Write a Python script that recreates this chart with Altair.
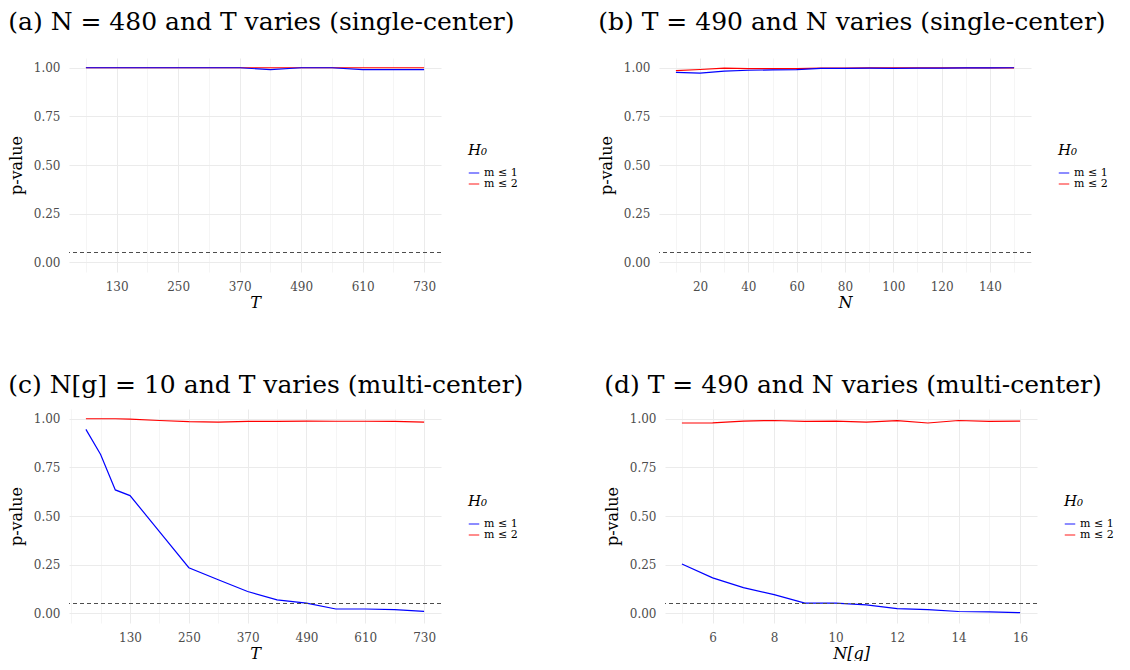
import altair as alt
import pandas as pd

# ---------------- data ----------------
a_x = [70, 130, 190, 250, 310, 370, 430, 490, 550, 610, 670, 730]
a_m1 = [1.0, 1.0, 1.0, 1.0, 1.0, 1.0, 0.99, 1.0, 1.0, 0.99, 0.99, 0.99]
a_m2 = [1.0, 1.0, 1.0, 1.0, 1.0, 1.0, 1.0, 1.0, 1.0, 1.0, 1.0, 1.0]

b_x = [10, 20, 30, 40, 50, 60, 70, 80, 90, 100, 110, 120, 130, 140, 150]
b_m1 = [0.976, 0.972, 0.983, 0.987, 0.989, 0.990, 0.997, 0.997, 0.998, 0.997, 0.998, 0.998, 0.999, 0.999, 1.0]
b_m2 = [0.985, 0.991, 0.998, 0.995, 0.995, 0.995, 0.998, 0.998, 0.999, 0.999, 0.999, 0.999, 0.999, 0.999, 0.999]

c_x = [40, 70, 100, 130, 190, 250, 310, 370, 430, 490, 550, 610, 670, 730]
c_m1 = [0.945, 0.816, 0.634, 0.605, 0.42, 0.234, 0.172, 0.112, 0.069, 0.052, 0.022, 0.022, 0.019, 0.010]
c_m2 = [1.0, 1.0, 1.0, 0.998, 0.991, 0.985, 0.983, 0.986, 0.986, 0.988, 0.987, 0.987, 0.986, 0.983]

d_x = [5, 6, 7, 8, 9, 10, 11, 12, 13, 14, 15, 16]
d_m1 = [0.253, 0.182, 0.132, 0.096, 0.052, 0.052, 0.043, 0.024, 0.019, 0.009, 0.007, 0.003]
d_m2 = [0.978, 0.979, 0.988, 0.991, 0.986, 0.988, 0.983, 0.990, 0.978, 0.991, 0.986, 0.988]

series_names = ["m ≤ 1", "m ≤ 2"]
series_colors = ["#0000FF", "#FF0000"]
threshold = 0.05

y_major = [0, 0.25, 0.5, 0.75, 1.0]
y_minor = [0.125, 0.375, 0.625, 0.875]

panels = [
    dict(title="(a) N = 480 and T varies (single-center)", x=a_x, m1=a_m1, m2=a_m2,
         xtitle="T", domain=[37, 763], major=[130, 250, 370, 490, 610, 730],
         minor=[70, 190, 310, 430, 550, 670], offset=23),
    dict(title="(b) T = 490 and N varies (single-center)", x=b_x, m1=b_m1, m2=b_m2,
         xtitle="N", domain=[3, 157], major=[20, 40, 60, 80, 100, 120, 140],
         minor=[10, 30, 50, 70, 90, 110, 130, 150], offset=23),
    dict(title="(c) N[g] = 10 and T varies (multi-center)", x=c_x, m1=c_m1, m2=c_m2,
         xtitle="T", domain=[5.5, 764.5], major=[130, 250, 370, 490, 610, 730],
         minor=[10, 70, 190, 310, 430, 550, 670], offset=11),
    dict(title="(d) T = 490 and N varies (multi-center)", x=d_x, m1=d_m1, m2=d_m2,
         xtitle="N[g]", domain=[4.45, 16.55], major=[6, 8, 10, 12, 14, 16],
         minor=[5, 7, 9, 11, 13, 15], offset=11),
]

SERIF = "DejaVu Serif"
PW, PH = 372, 214


def grid_width(major):
    return {"condition": {"test": f"indexof({major}, datum.value) >= 0", "value": 1.0},
            "value": 0.5}


def make_panel(p):
    df = pd.DataFrame({
        "x": p["x"] + p["x"],
        "p": p["m1"] + p["m2"],
        "H0": [series_names[0]] * len(p["x"]) + [series_names[1]] * len(p["x"]),
    })
    xmaj = p["major"]
    xaxis = alt.Axis(
        values=sorted(xmaj + p["minor"]),
        labelExpr=f"indexof({xmaj}, datum.value) >= 0 ? datum.label : ''",
        gridWidth=grid_width(xmaj),
        labelOverlap=False,
        title=p["xtitle"], titleFontStyle="italic",
    )
    yaxis = alt.Axis(
        values=sorted(y_major + y_minor),
        labelExpr=f"indexof({y_major}, datum.value) >= 0 ? format(datum.value, '.2f') : ''",
        gridWidth=grid_width(y_major),
        labelOverlap=False,
        title="p-value",
    )
    color = alt.Color(
        "H0:N",
        scale=alt.Scale(domain=series_names, range=series_colors),
        legend=alt.Legend(title="H₀", orient="none", legendX=PW + 27, legendY=85,
                          symbolType="stroke", symbolSize=110, symbolStrokeWidth=1.5,
                          symbolOpacity=0.6, titleFontStyle="italic", titleFontSize=15,
                          titleFont=SERIF, titleFontWeight="normal",
                          labelFont=SERIF, labelFontSize=11, rowPadding=-4,
                          titlePadding=9),
    )
    x = alt.X("x:Q", scale=alt.Scale(domain=p["domain"], nice=False, zero=False), axis=xaxis)
    y = alt.Y("p:Q", scale=alt.Scale(domain=[-0.05, 1.05], nice=False), axis=yaxis)
    base = alt.Chart(df).encode(x=x, y=y, color=color)
    red = base.transform_filter(alt.datum.H0 == series_names[1]).mark_line(strokeWidth=1.2)
    blue = base.transform_filter(alt.datum.H0 == series_names[0]).mark_line(strokeWidth=1.2)
    rule = alt.Chart(pd.DataFrame({"t": [threshold]})).mark_rule(
        color="#4D4D4D", strokeDash=[4, 3], strokeWidth=1.1
    ).encode(y="t:Q")
    return alt.layer(red, blue, rule).properties(
        width=PW, height=PH,
        title=alt.TitleParams(p["title"], anchor="start", frame="bounds",
                              font=SERIF, fontSize=25, fontWeight="normal",
                              color="black", offset=p["offset"]),
    )


charts = [make_panel(p) for p in panels]
row1 = alt.hconcat(charts[0], charts[1], spacing=80).resolve_scale(color="independent")
row2 = alt.hconcat(charts[2], charts[3], spacing=80).resolve_scale(color="independent")
chart = alt.vconcat(row1, row2, spacing=63).resolve_scale(color="independent").properties(
    padding={"left": 0, "top": 2, "right": 0, "bottom": 0}
).configure_view(stroke=None).configure_axis(
    domain=False, ticks=False, gridColor="#EBEBEB",
    labelFont=SERIF, labelFontSize=12, labelColor="#4D4D4D", labelPadding=9,
    titleFont=SERIF, titleFontSize=16, titleFontWeight="normal", titleColor="black",
).configure_axisY(titlePadding=9).configure_axisX(titlePadding=2)

chart.save("out.html", embed_options={"renderer": "svg", "actions": False})
